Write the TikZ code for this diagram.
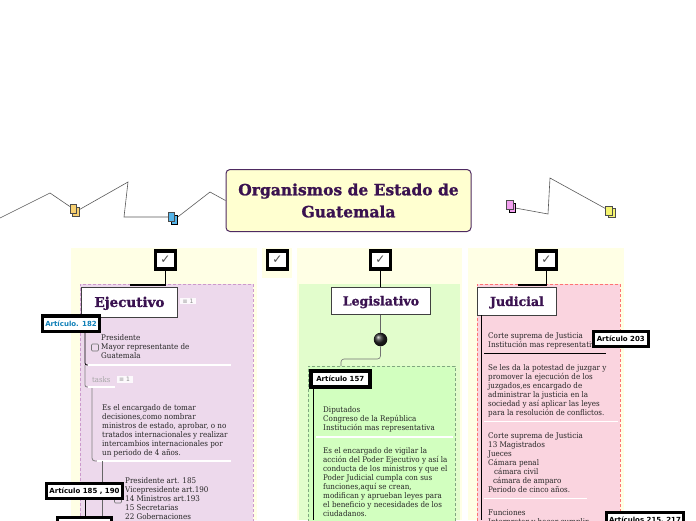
\documentclass[tikz,border=0pt]{standalone}
\usepackage{fontspec}
\setmainfont{DejaVu Serif}[FakeStretch=0.92]
\newfontfamily\slabfont{DejaVu Serif}[FakeBold=1.2]
\newfontfamily\tagfont{DejaVu Sans}
\usepackage{tikz}
\definecolor{inkplum}{HTML}{3A1250}
\definecolor{paleyellow}{HTML}{FFFFE5}
\definecolor{titlefill}{HTML}{FFFFD0}
\definecolor{execfill}{HTML}{EDD9EC}
\definecolor{legfill}{HTML}{E2FDCC}
\definecolor{artfill}{HTML}{D2FFBF}
\definecolor{judfill}{HTML}{FAD4DF}
\definecolor{tagblue}{HTML}{1080B8}
\definecolor{notegold}{HTML}{F7D070}
\definecolor{noteblue}{HTML}{55B5EA}
\definecolor{notepink}{HTML}{F3A0F0}
\definecolor{notelemon}{HTML}{F5F570}
\tikzstyle{panel} = [fill=paleyellow, draw=none, inner sep=0pt, anchor=north west]
\tikzstyle{zone} = [dash pattern=on 3pt off 2pt, line width=0.7pt, inner sep=0pt, anchor=north west]
\tikzstyle{checkbox} = [draw=black, line width=3.8pt, fill=white, minimum width=20pt, minimum height=18pt, inner sep=0pt, text=black!70, font=\tagfont\fontsize{12}{12}\selectfont]
\tikzstyle{branch} = [draw=black!75, fill=white, line width=0.9pt, inner sep=0pt, anchor=north west, text=inkplum, text height=9pt, text depth=0pt, font=\slabfont\bfseries\fontsize{12.5}{14}\selectfont]
\tikzstyle{arttag} = [draw=black, line width=3.2pt, fill=white, inner sep=0pt, minimum height=15.2pt, font=\tagfont\bfseries\fontsize{7}{8}\selectfont]
\tikzstyle{body} = [anchor=north west, inner sep=0pt, align=left, text=black!85, font=\fontsize{7.8}{9}\selectfont]
\tikzstyle{badge} = [fill=white, fill opacity=0.85, text opacity=1, inner sep=1pt, minimum width=16pt, text=black!45, font=\tagfont\fontsize{6}{6}\selectfont]
\tikzstyle{noteleaf} = [draw=black!70, line width=0.8pt, minimum width=6.5pt, minimum height=9pt, inner sep=0pt]
\tikzstyle{zigzag} = [draw=black!65, line width=0.6pt]
\tikzstyle{rail} = [draw=black, line width=0.8pt]
\tikzstyle{softrail} = [draw=black!50, line width=0.8pt]
\tikzstyle{splitter} = [draw=white, line width=1.2pt]
\tikzstyle{tinybox} = [draw=black!55, rounded corners=1pt, line width=0.6pt, minimum width=7pt, minimum height=7pt, inner sep=0pt]
\begin{document}
\begin{tikzpicture}[x=1pt, y=-1pt]
	\useasboundingbox (0,0) rectangle (696,520);
	\clip (0,0) rectangle (696,520);
	% panels
	\node[panel, minimum width=186pt, minimum height=272pt] (execpanel) at (71,248) {};
	\node[panel, minimum width=30pt, minimum height=30pt] (sparepanel) at (262,248) {};
	\node[panel, minimum width=165pt, minimum height=272pt] (legpanel) at (297,248) {};
	\node[panel, minimum width=156pt, minimum height=272pt] (judpanel) at (468,248) {};
	\node[zone, draw=violet!40, fill=execfill, minimum width=173pt, minimum height=240pt] (execzone) at (80,284) {};
	\node[panel, fill=legfill, minimum width=161pt, minimum height=236pt] (legzone) at (299,284) {};
	\node[zone, draw=green!30!black!50, fill=artfill, minimum width=147pt, minimum height=158pt] (artzone) at (308,366) {};
	\node[zone, draw=red!55!white, fill=judfill, minimum width=143pt, minimum height=240pt] (judzone) at (477,284) {};

	% title and floating notes
	\node[draw=inkplum!90, line width=1pt, fill=titlefill, rounded corners=4pt, minimum width=245pt, minimum height=62pt, align=center, inner sep=0pt, text=inkplum, font=\slabfont\bfseries\fontsize{15.5}{22}\selectfont] (title) at (348.5,200.5) {Organismos de Estado de\\Guatemala};
	\coordinate (startleft) at (0,218);
	\coordinate (bendA) at (50,193);
	\coordinate (bendB) at (128,182);
	\coordinate (bendC) at (124,217);
	\coordinate (bendD) at (210,192);
	\coordinate (bendE) at (548,214);
	\coordinate (bendF) at (550,178);
	\node[noteleaf, fill=notegold] (yellownoteback) at (76,211.5) {};
	\node[noteleaf, fill=notegold] (yellownote) at (73.5,209) {};
	\node[noteleaf, draw=black, fill=noteblue] (bluenoteback) at (174.5,219.5) {};
	\node[noteleaf, fill=noteblue] (bluenote) at (171.5,217) {};
	\node[noteleaf, draw=black, fill=notepink] (pinknoteback) at (512.5,207.5) {};
	\node[noteleaf, fill=notepink] (pinknote) at (510,204.5) {};
	\node[noteleaf, fill=notelemon] (lemonnoteback) at (612,212.5) {};
	\node[noteleaf, fill=notelemon] (lemonnote) at (609,210.5) {};
	\draw[zigzag] (startleft) -- (bendA) -- (yellownote);
	\draw[zigzag] (yellownoteback) -- (bendB) -- (bendC) -- (bluenote);
	\draw[zigzag] (bluenoteback) -- (bendD) -- (title.west);
	\draw[zigzag] (pinknoteback) -- (bendE) -- (bendF) -- (lemonnote);

	% checkboxes
	\node[checkbox] (execcheck) at (165.5,260) {✓};
	\node[checkbox] (sparecheck) at (277.5,260) {✓};
	\node[checkbox] (legcheck) at (380.5,260) {✓};
	\node[checkbox] (judcheck) at (546.5,260) {✓};

	% Ejecutivo
	\node[branch, minimum width=96pt, minimum height=30pt, font=\slabfont\bfseries\fontsize{13.5}{14}\selectfont] (ejecutivo) at (81,287) {Ejecutivo};
	\node[badge] (execbadge) at (188,301) {≡ 1};
	\coordinate (execelbow) at (165.5,285);
	\coordinate (execjoin) at (130,285);
	\draw[draw=black, line width=1.8pt] (execcheck) -- (execelbow) -- (execjoin);
	\coordinate (railAtop) at (85,333);
	\coordinate (railAend) at (85,365);
	\coordinate (sepAend) at (231,365);
	\coordinate (railBend) at (85,387);
	\coordinate (sepBend) at (115,387);
	\coordinate (railCtop) at (92,388);
	\coordinate (railCend) at (92,461);
	\coordinate (sepCend) at (231,461);
	\coordinate (railDtop) at (102,461);
	\coordinate (railDend) at (102,520);
	\coordinate (railEtop) at (85,500);
	\coordinate (railEend) at (85,516);
	\draw[rail, rounded corners=2pt] (railAtop) -- (railAend) -- ++(3,0);
	\draw[splitter] (88,365) -- (sepAend);
	\draw[softrail, rounded corners=2pt] (railAend) -- (railBend) -- ++(3,0);
	\draw[splitter] (88,387) -- (sepBend);
	\draw[softrail, rounded corners=3pt] (railCtop) -- (railCend) -- ++(5,0);
	\draw[splitter] (97,461) -- (sepCend);
	\draw[softrail, draw=black!60] (railDtop) -- (railDend);
	\draw[rail] (railEtop) -- (railEend);
	\node[arttag, minimum width=57pt, text=tagblue] (tagcientoochentaydos) at (71,323.5) {Artículo. 182};
	\node[tinybox] (boxpresidente) at (95,347.5) {};
	\node[body] (presidente) at (101,334.5) {Presidente\\Mayor representante de\\Guatemala};
	\node[anchor=west, inner sep=0pt, text=black!35, font=\fontsize{7.5}{9}\selectfont] (tasks) at (92,379.5) {tasks};
	\node[badge] (tasksbadge) at (124.5,379.5) {≡ 1};
	\node[body] (encargado) at (102,404.5) {Es el encargado de tomar\\decisiones,como nombrar\\ministros de estado, aprobar, o no\\tratados internacionales y realizar\\intercambios internacionales por\\un periodo de 4 años.};
	\node[tinybox] (boxministros) at (118,499.5) {};
	\node[body] (ministros) at (125,477) {Presidente art. 185\\Vicepresidente art.190\\14 Ministros art.193\\15 Secretarias\\22 Gobernaciones};
	\node[arttag, minimum width=75.8pt] (tagcientoochentaycinco) at (84.5,490.7) {Artículo 185 , 190};
	\node[arttag, minimum width=54pt, anchor=north] (tagsiguiente) at (84.5,516) {};

	% Legislativo
	\node[branch, minimum width=99pt, minimum height=27pt] (legislativo) at (331,287) {Legislativo};
	\node[circle, inner sep=0pt, minimum size=13.5pt, shading=ball, ball color=black!85] (ball) at (380.5,339.5) {};
	\coordinate (balldrop) at (380.5,359);
	\coordinate (artjoin) at (341,359);
	\coordinate (artdrop) at (341,366);
	\draw[draw=black, line width=1.8pt] (legcheck) -- (legislativo.north -| legcheck);
	\draw[draw=black!60, line width=1.5pt] (legislativo.south -| ball) -- (ball);
	\draw[draw=black!55, line width=0.6pt, rounded corners=3pt] (ball) -- (balldrop) -- (artjoin) -- (artdrop);
	\coordinate (railFtop) at (313,388);
	\coordinate (railFend) at (313,520);
	\coordinate (sepFstart) at (316,437);
	\coordinate (sepFend) at (453,437);
	\draw[rail] (railFtop) -- (railFend);
	\draw[splitter] (sepFstart) -- (sepFend);
	\node[arttag, line width=4pt, minimum width=58.5pt, minimum height=16pt] (tagcientocincuentaysiete) at (340.3,379) {Artículo 157};
	\node[body] (diputados) at (323,406) {Diputados\\Congreso de la República\\Institución mas representativa};
	\node[body] (vigilar) at (323,447.5) {Es el encargado de vigilar la\\acción del Poder Ejecutivo y así la\\conducta de los ministros y que el\\Poder Judicial cumpla con sus\\funciones,aquí se crean,\\modifican y aprueban leyes para\\el beneficio y necesidades de los\\ciudadanos.};

	% Judicial
	\node[branch, minimum width=79pt, minimum height=28pt] (judicial) at (477,287) {Judicial};
	\coordinate (judelbow) at (546.5,285);
	\coordinate (judjoin) at (518,285);
	\coordinate (railGtop) at (481,315);
	\coordinate (railGend) at (481,520);
	\coordinate (sepGstart) at (484,353.5);
	\coordinate (sepGend) at (606,353.5);
	\coordinate (sepHstart) at (484,421.5);
	\coordinate (sepHend) at (618,421.5);
	\coordinate (sepIstart) at (484,498.5);
	\coordinate (sepIend) at (587,498.5);
	\draw[draw=black, line width=1.8pt] (judcheck) -- (judelbow) -- (judjoin);
	\draw[rail] (railGtop) -- (railGend);
	\draw[draw=black, line width=1.1pt] (sepGstart) -- (sepGend);
	\draw[splitter] (sepHstart) -- (sepHend);
	\draw[splitter] (sepIstart) -- (sepIend);
	\node[body] (corteuno) at (488,332.5) {Corte suprema de Justicia\\Institución mas representativa};
	\node[arttag, minimum width=55pt] (tagdoscientostres) at (620.8,339) {Artículo 203};
	\node[body] (potestad) at (488,364) {Se les da la potestad de juzgar y\\promover la ejecución de los\\juzgados,es encargado de\\administrar la justicia en la\\sociedad y así aplicar las leyes\\para la resolución de conflictos.};
	\node[body] (cortedos) at (488,432) {Corte suprema de Justicia\\13 Magistrados\\Jueces\\Cámara penal\\\hspace*{6pt}cámara civil\\\hspace*{5pt}cámara de amparo\\Periodo de cinco años.};
	\node[body] (funciones) at (488,509.5) {Funciones\\Interpretar y hacer cumplir};
	\node[arttag, minimum width=76.8pt] (tagdoscientosquince) at (645,520) {Artículos 215, 217};
\end{tikzpicture}
\end{document}
